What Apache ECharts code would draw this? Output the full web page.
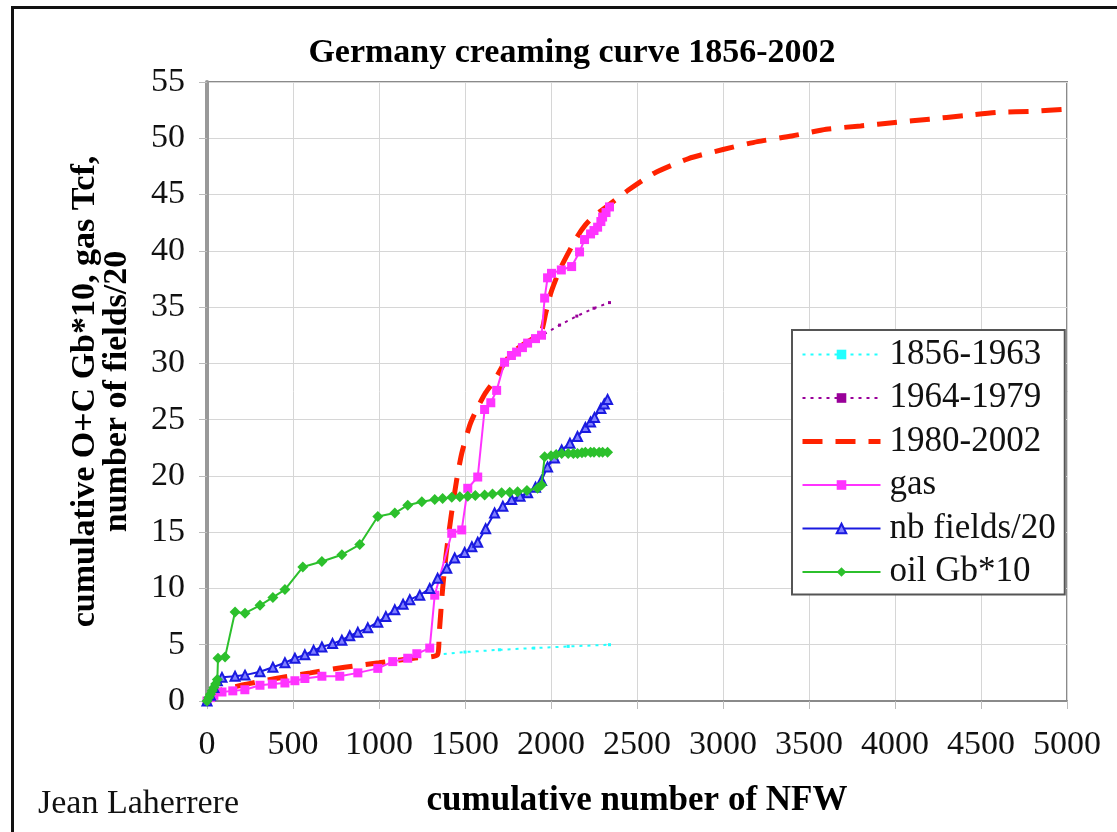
<!DOCTYPE html>
<html>
<head>
<meta charset="utf-8">
<title>Germany creaming curve 1856-2002</title>
<script src="https://cdn.jsdelivr.net/npm/echarts@6/dist/echarts.min.js"></script>
<style>
  html, body { margin: 0; padding: 0; background: #ffffff; }
  #chart { width: 1117px; height: 832px; }
</style>
</head>
<body>
<div id="chart"></div>
<script>
// Cumulative number of new-field wildcats (x) against cumulative discoveries (y)

// Hyperbolic fits for three exploration periods
const fit1856X = [1330, 1500, 1700, 1900, 2100, 2340];
const fit1856Y = [4.1, 4.35, 4.55, 4.7, 4.85, 5.0];

const fit1964X = [1960, 2050, 2150, 2250, 2340];
const fit1964Y = [32.6, 33.4, 34.2, 34.9, 35.4];

const fit1980X = [0, 50, 200, 400, 600, 800, 1000, 1200, 1340, 1350, 1370, 1390, 1420, 1450, 1481, 1530, 1574, 1620, 1672, 1720, 1771, 1850, 1940, 1970, 2000, 2050, 2100, 2150, 2200, 2250, 2330, 2450, 2600, 2800, 3000, 3200, 3400, 3600, 3800, 4000, 4200, 4400, 4600, 4800, 5000];
const fit1980Y = [0, 0.8, 1.4, 2.0, 2.5, 3.0, 3.4, 3.8, 4.1, 6.0, 10.0, 13.0, 16.5, 19.5, 22.0, 24.6, 26.1, 27.4, 28.5, 29.8, 30.9, 31.8, 32.7, 34.5, 36.3, 38.3, 39.8, 41.2, 42.3, 43.1, 44.0, 45.4, 46.9, 48.2, 49.0, 49.7, 50.2, 50.8, 51.1, 51.4, 51.7, 52.0, 52.3, 52.4, 52.6];

// Gas, Tcf
const gasX = [0, 20, 40, 87, 150, 220, 308, 380, 453, 511, 569, 668, 772, 877, 993, 1080, 1167, 1220, 1295, 1324, 1423, 1481, 1516, 1574, 1614, 1650, 1684, 1730, 1770, 1800, 1834, 1864, 1910, 1945, 1963, 1980, 2003, 2060, 2120, 2166, 2195, 2230, 2250, 2271, 2290, 2300, 2320, 2340];
const gasY = [0, 0.3, 0.5, 0.8, 0.9, 1.0, 1.4, 1.5, 1.6, 1.8, 2.0, 2.2, 2.2, 2.5, 2.9, 3.5, 3.8, 4.2, 4.7, 9.4, 14.9, 15.2, 18.9, 19.9, 25.9, 26.5, 27.6, 30.1, 30.7, 31.0, 31.4, 31.8, 32.2, 32.5, 35.8, 37.6, 38.0, 38.3, 38.6, 39.9, 41.0, 41.5, 41.8, 42.1, 42.6, 43.0, 43.4, 43.9];

// Number of fields / 20
const fieldsX = [0, 20, 40, 60, 87, 163, 221, 308, 383, 453, 511, 569, 620, 668, 730, 784, 830, 877, 935, 993, 1040, 1092, 1140, 1179, 1237, 1295, 1341, 1394, 1440, 1498, 1540, 1574, 1620, 1672, 1720, 1771, 1820, 1864, 1910, 1945, 1980, 2020, 2062, 2110, 2154, 2200, 2230, 2253, 2290, 2310, 2329];
const fieldsY = [0, 0.5, 1.2, 1.8, 2.1, 2.2, 2.3, 2.6, 3.0, 3.4, 3.8, 4.1, 4.5, 4.8, 5.1, 5.4, 5.8, 6.1, 6.5, 7.0, 7.5, 8.1, 8.6, 9.0, 9.4, 10.0, 10.9, 11.8, 12.7, 13.2, 13.7, 14.1, 15.3, 16.7, 17.3, 17.9, 18.2, 18.5, 19.0, 19.6, 20.8, 21.6, 22.3, 22.9, 23.5, 24.3, 24.8, 25.2, 26.0, 26.4, 26.8];

// Oil, Gb * 10
const oilX = [0, 10, 20, 30, 40, 50, 60, 64, 105, 163, 221, 308, 383, 453, 557, 668, 784, 888, 993, 1092, 1167, 1249, 1324, 1370, 1423, 1470, 1516, 1560, 1614, 1660, 1713, 1760, 1806, 1860, 1922, 1945, 1963, 2000, 2030, 2062, 2100, 2130, 2154, 2180, 2200, 2230, 2250, 2280, 2300, 2329];
const oilY = [0, 0.3, 0.6, 0.9, 1.2, 1.5, 1.9, 3.8, 3.9, 7.9, 7.8, 8.5, 9.2, 9.9, 11.9, 12.4, 13.0, 13.9, 16.4, 16.7, 17.4, 17.7, 17.9, 18.0, 18.1, 18.15, 18.2, 18.25, 18.3, 18.4, 18.5, 18.55, 18.6, 18.7, 18.9, 19.2, 21.7, 21.8, 21.9, 22.0, 22.0, 22.0, 22.0, 22.05, 22.1, 22.1, 22.1, 22.1, 22.1, 22.1];

// Axis ticks
const xTicks = { min: 0, max: 5000, step: 500 };
const yTicks = { min: 0, max: 55, step: 5 };

const zip = (xs, ys) => xs.map((x, i) => [x, ys[i]]);

const SERIF = '"Liberation Serif", "Times New Roman", serif';
const FIT_DASH = [20, 13];

const chart = echarts.init(document.getElementById('chart'), null, { renderer: 'canvas' });

chart.setOption({
  animation: false,
  backgroundColor: '#ffffff',
  title: {
    text: 'Germany creaming curve 1856-2002',
    left: 567,
    textAlign: 'center',
    top: 31,
    textStyle: { fontFamily: SERIF, fontSize: 34, fontWeight: 'bold', color: '#000000' }
  },
  grid: {
    left: 207, right: 50, top: 82, bottom: 131,
    show: true, borderColor: '#8a8a8a', borderWidth: 2, backgroundColor: '#ffffff'
  },
  legend: {
    orient: 'vertical',
    left: 792, top: 330,
    padding: [7, 9, 5, 8],
    itemWidth: 78, itemHeight: 12, itemGap: 8.5,
    backgroundColor: '#ffffff',
    borderColor: '#555555', borderWidth: 2, borderRadius: 0,
    textStyle: { fontFamily: SERIF, fontSize: 35, lineHeight: 35, color: '#111111', padding: [0, 0, 0, 4] },
    data: [
      { name: '1856-1963' },
      { name: '1964-1979' },
      // dashed fit: thick line only, no point marker
      {
        name: '1980-2002',
        itemStyle: { opacity: 0 },
        lineStyle: { color: '#ff2200', width: 5, type: FIT_DASH }
      },
      { name: 'gas' },
      { name: 'nb fields/20' },
      { name: 'oil Gb*10' }
    ]
  },
  xAxis: {
    type: 'value',
    min: xTicks.min, max: xTicks.max, interval: xTicks.step,
    name: 'cumulative number of NFW',
    nameLocation: 'middle', nameGap: 82,
    nameTextStyle: { fontFamily: SERIF, fontSize: 35, fontWeight: 'bold', color: '#000000' },
    axisLine: { show: true, onZero: false, lineStyle: { color: '#8a8a8a', width: 2 } },
    axisTick: { show: true, inside: false, length: 8, lineStyle: { color: '#bbbbbb' } },
    axisLabel: {
      fontFamily: SERIF, fontSize: 34, color: '#111111', margin: 27,
      formatter: v => String(v)
    },
    splitLine: { show: true, lineStyle: { color: '#d6d6d6', width: 1 } }
  },
  yAxis: {
    type: 'value',
    min: yTicks.min, max: yTicks.max, interval: yTicks.step,
    name: 'cumulative O+C Gb*10, gas Tcf,\nnumber of fields/20',
    nameLocation: 'middle', nameRotate: 90, nameGap: 74,
    nameTextStyle: { fontFamily: SERIF, fontSize: 34, fontWeight: 'bold', color: '#000000', lineHeight: 32 },
    axisLine: { show: true, onZero: false, lineStyle: { color: '#999999', width: 4 } },
    axisTick: { show: true, inside: false, length: 8, lineStyle: { color: '#bbbbbb' } },
    axisLabel: { fontFamily: SERIF, fontSize: 34, color: '#111111', margin: 22 },
    splitLine: { show: true, lineStyle: { color: '#d6d6d6', width: 1 } }
  },
  series: [
    {
      name: '1856-1963', type: 'line', data: zip(fit1856X, fit1856Y),
      symbol: 'rect', symbolSize: 3, showSymbol: true,
      itemStyle: { color: '#22ffff' },
      lineStyle: { color: '#22ffff', width: 2, type: [3, 5] }, z: 2
    },
    {
      name: '1964-1979', type: 'line', data: zip(fit1964X, fit1964Y),
      symbol: 'rect', symbolSize: 3, showSymbol: true,
      itemStyle: { color: '#990099' },
      lineStyle: { color: '#990099', width: 2, type: [3, 5] }, z: 2
    },
    {
      name: '1980-2002', type: 'line', data: zip(fit1980X, fit1980Y),
      symbol: 'none', smooth: 0.2,
      itemStyle: { color: '#ff2200' },
      lineStyle: { color: '#ff2200', width: 5, type: FIT_DASH }, z: 3
    },
    {
      name: 'gas', type: 'line', data: zip(gasX, gasY),
      symbol: 'rect', symbolSize: 9,
      itemStyle: { color: '#ff33ff' },
      lineStyle: { color: '#ff33ff', width: 2 }, z: 4
    },
    {
      name: 'nb fields/20', type: 'line', data: zip(fieldsX, fieldsY),
      symbol: 'triangle', symbolSize: 9,
      itemStyle: { color: '#8080ff', borderColor: '#1a1ae0', borderWidth: 2 },
      lineStyle: { color: '#1a1ae0', width: 2 }, z: 5
    },
    {
      name: 'oil Gb*10', type: 'line', data: zip(oilX, oilY),
      symbol: 'diamond', symbolSize: 11,
      itemStyle: { color: '#2cc02c' },
      lineStyle: { color: '#2cc02c', width: 2 }, z: 6
    }
  ],
  graphic: [
    {
      type: 'rect', left: 10, top: 5, silent: true, z: 100,
      shape: { width: 1300, height: 1000 },
      style: { fill: 'none', stroke: '#111111', lineWidth: 3 }
    },
    {
      type: 'text', left: 38, top: 787, silent: true,
      style: { text: 'Jean Laherrere', font: '34px "Liberation Serif", serif', fill: '#111111' }
    }
  ]
});
</script>
</body>
</html>
